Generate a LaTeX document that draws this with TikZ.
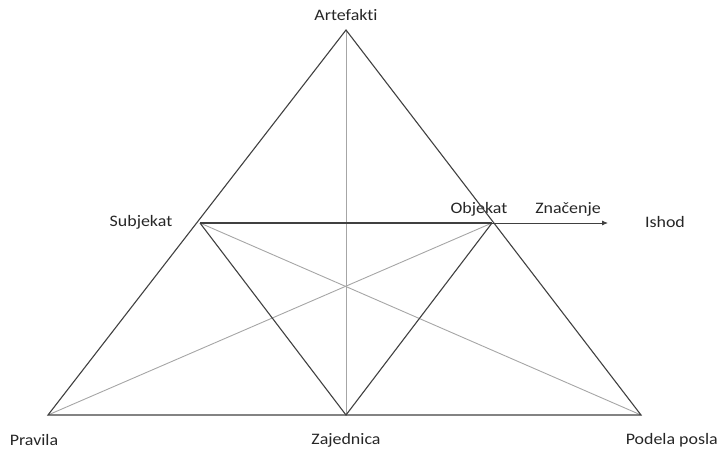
\documentclass[tikz,border=0pt]{standalone}
\usepackage{fontspec}
\setmainfont[Ligatures=NoCommon]{Carlito}
\usepackage{tikz}
\usetikzlibrary{arrows.meta,positioning}

\begin{document}
\begin{tikzpicture}[
    x=1pt, y=-1pt,
    edge/.style={draw=black!75, line width=1.1pt},
    thin/.style={draw=black!35, line width=0.9pt},
    lbl/.style={font=\fontsize{16}{18}\selectfont, text=black!85, inner sep=0pt, xscale=1.12, transform shape}
]
\useasboundingbox (0,0) rectangle (720,452);

% Ecken
\coordinate (art) at (346, 30);
\coordinate (pra) at (48, 415);
\coordinate (pod) at (641, 415);
\coordinate (zaj) at (346, 415);
\coordinate (sub) at (200, 223);
\coordinate (obj) at (492, 223);
\coordinate (ish) at (608, 223);

% Beschriftungen
\node[lbl] (lart) at (346, 15) {Artefakti};
\node[lbl] (lsub) at (141, 222) {Subjekat};
\node[lbl] (lobj) at (479, 209) {Objekat};
\node[lbl] (lzna) at (568, 209) {Značenje};
\node[lbl] (lish) at (665, 222) {Ishod};
\node[lbl] (lpra) at (34, 440) {Pravila};
\node[lbl] (lzaj) at (346, 440) {Zajednica};
\node[lbl, anchor=east] (lpod) at (718, 440) {Podela posla};

% innere Linien
\draw[thin] (art) -- (zaj);
\draw[thin] (sub) -- (pod);
\draw[thin] (obj) -- (pra);

% Dreiecke
\draw[edge] (art) -- (pra) -- (pod) -- cycle;
\draw[edge] (sub) -- (obj);
\draw[edge] (sub) -- (zaj) -- (obj);

% Ergebnis
\draw[-{Latex[length=6pt,width=5pt]}, black!75, line width=0.9pt] (obj) -- (ish);

\end{tikzpicture}
\end{document}
